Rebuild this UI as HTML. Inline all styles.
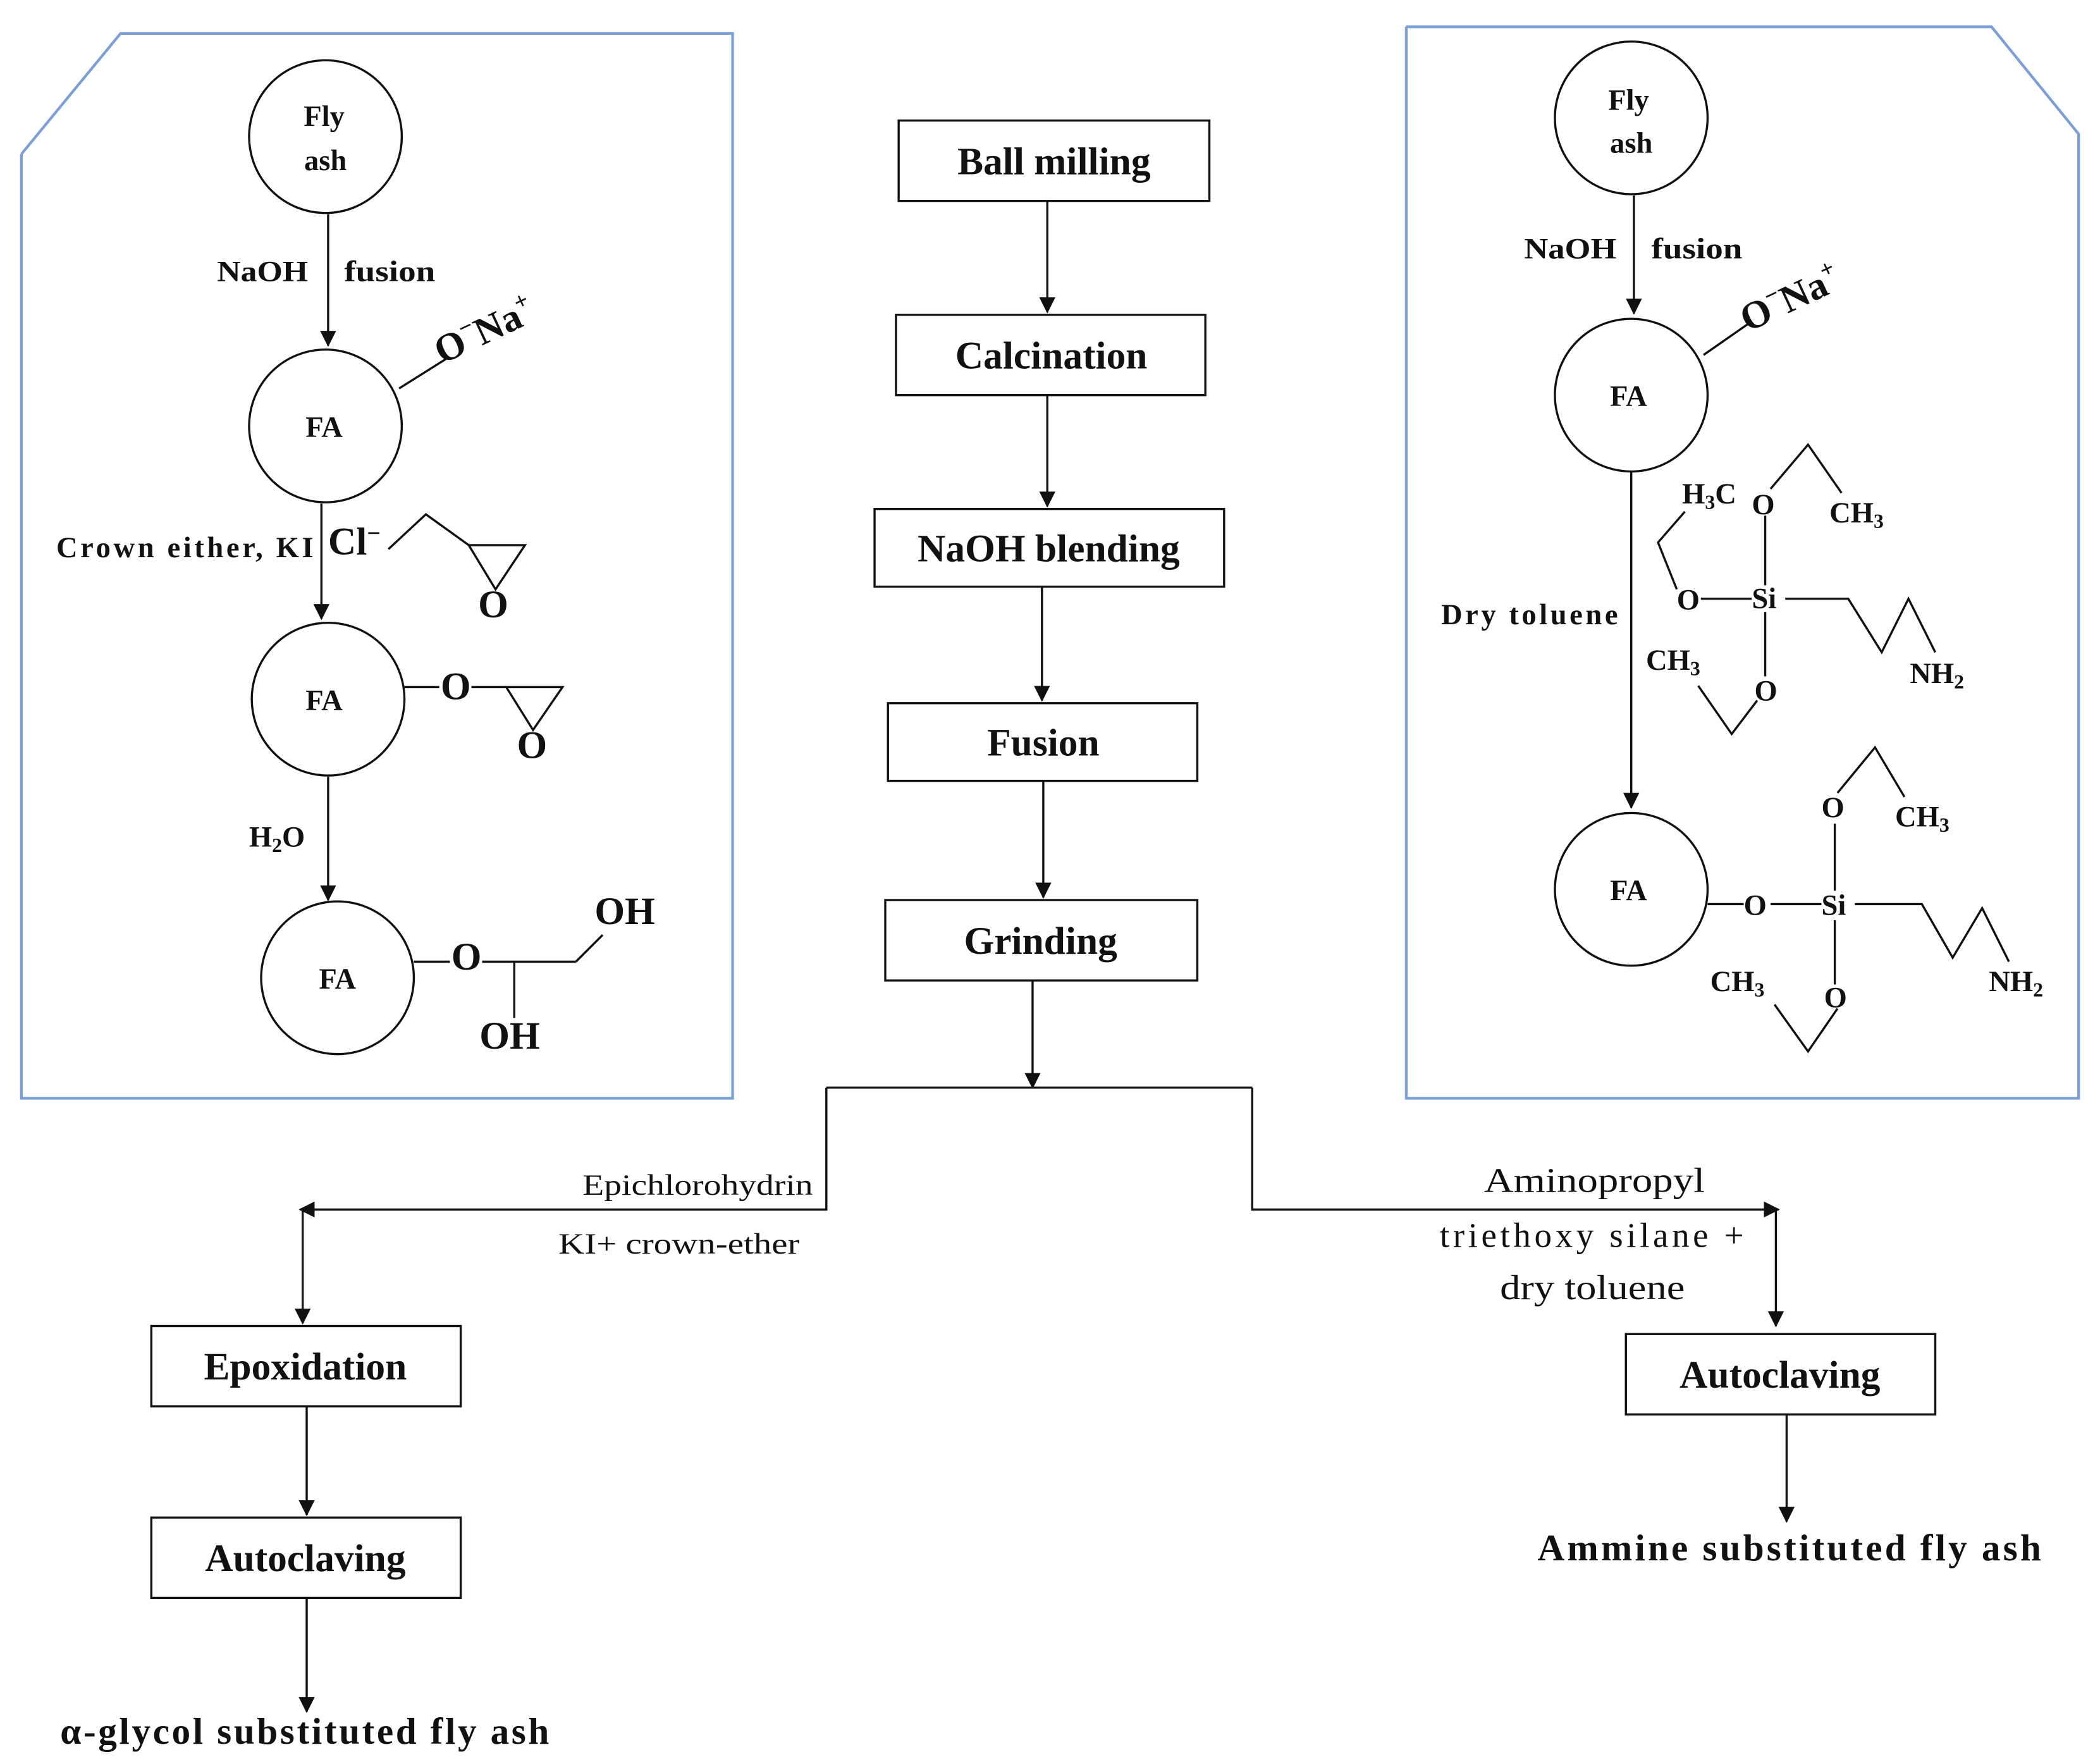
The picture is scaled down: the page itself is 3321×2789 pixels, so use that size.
<!DOCTYPE html>
<html><head><meta charset="utf-8"><style>
html,body{margin:0;padding:0;background:#fff;}
svg{display:block;}
text{font-family:"Liberation Serif",serif;fill:#111;}
.b{font-weight:bold;}
</style></head><body>
<svg width="3321" height="2789" viewBox="0 0 1568 1317" preserveAspectRatio="none" xmlns="http://www.w3.org/2000/svg">
<defs><marker id="a" markerWidth="12" markerHeight="12" refX="11" refY="6" orient="auto" markerUnits="userSpaceOnUse"><path d="M0,0 L12,6 L0,12 z" fill="#111"/></marker></defs>
<g fill="none" stroke="#7a9fd6" stroke-width="2">
<polyline points="16,115 90,25 547,25 547,820 16,820 16,115"/>
<polyline points="1050,20 1487,20 1552,100 1552,820 1050,820 1050,20"/>
</g>
<g fill="#fff" stroke="#111" stroke-width="1.6">
<rect x="671" y="90" width="232" height="60"/>
<rect x="669" y="235" width="231" height="60"/>
<rect x="653" y="380" width="261" height="58"/>
<rect x="663" y="525" width="231" height="58"/>
<rect x="661" y="672" width="233" height="60"/>
<rect x="113" y="990" width="231" height="60"/>
<rect x="113" y="1133" width="231" height="60"/>
<rect x="1214" y="996" width="231" height="60"/>
</g>
<g stroke="#111" stroke-width="1.6" fill="none" marker-end="url(#a)">
<line x1="782" y1="150" x2="782" y2="233"/>
<line x1="782" y1="295" x2="782" y2="378"/>
<line x1="778" y1="438" x2="778" y2="523"/>
<line x1="779" y1="583" x2="779" y2="670"/>
<line x1="771" y1="732" x2="771" y2="812"/>
<polyline points="617,812 617,903 224,903"/>
<line x1="226" y1="903" x2="226" y2="988"/>
<polyline points="935,812 935,903 1328,903"/>
<line x1="1326" y1="903" x2="1326" y2="990"/>
<line x1="229" y1="1050" x2="229" y2="1131"/>
<line x1="229" y1="1193" x2="229" y2="1278"/>
<line x1="1334" y1="1056" x2="1334" y2="1136"/>
<line x1="245" y1="160" x2="245" y2="258"/>
<line x1="240" y1="376" x2="240" y2="462"/>
<line x1="245" y1="580" x2="245" y2="672"/>
<line x1="1220" y1="146" x2="1220" y2="234"/>
<line x1="1218" y1="352" x2="1218" y2="603"/>
</g>
<line x1="617" y1="812" x2="935" y2="812" stroke="#111" stroke-width="1.6"/>
<g class="b" font-size="29" text-anchor="middle">
<text x="787" y="130" class="b">Ball milling</text>
<text x="785" y="275" class="b">Calcination</text>
<text x="783" y="419" class="b">NaOH blending</text>
<text x="779" y="564" class="b">Fusion</text>
<text x="777" y="712" class="b">Grinding</text>
<text x="228" y="1030" class="b">Epoxidation</text>
<text x="228" y="1173" class="b">Autoclaving</text>
<text x="1329" y="1036" class="b">Autoclaving</text>
</g>
<text x="45" y="1302" font-size="28" class="b" textLength="365" lengthAdjust="spacing">α-glycol substituted  fly ash</text>
<text x="1148" y="1165" font-size="28" class="b" textLength="376" lengthAdjust="spacing">Ammine  substituted  fly ash</text>
<text x="435" y="892" font-size="22" textLength="172" lengthAdjust="spacingAndGlyphs">Epichlorohydrin</text>
<text x="417" y="936" font-size="22" textLength="180" lengthAdjust="spacingAndGlyphs">KI+ crown-ether</text>
<text x="1108" y="890" font-size="26" textLength="165" lengthAdjust="spacingAndGlyphs">Aminopropyl</text>
<text x="1075" y="931" font-size="26" textLength="227" lengthAdjust="spacing">triethoxy  silane  +</text>
<text x="1120" y="970" font-size="26" textLength="138" lengthAdjust="spacingAndGlyphs">dry toluene</text>
<g fill="#fff" stroke="#111" stroke-width="1.6">
<circle cx="243" cy="102" r="57"/><circle cx="243" cy="318" r="57"/>
<circle cx="245" cy="522" r="57"/><circle cx="252" cy="730" r="57"/>
<circle cx="1218" cy="88" r="57"/><circle cx="1218" cy="295" r="57"/>
<circle cx="1218" cy="664" r="57"/>
</g>
<g class="b" font-size="22" text-anchor="middle">
<text x="242" y="94" class="b">Fly</text><text x="243" y="127" class="b">ash</text>
<text x="242" y="326" class="b">FA</text><text x="242" y="530" class="b">FA</text><text x="252" y="738" class="b">FA</text>
<text x="1216" y="82" class="b">Fly</text><text x="1218" y="114" class="b">ash</text>
<text x="1216" y="303" class="b">FA</text><text x="1216" y="672" class="b">FA</text>
</g>
<g class="b" font-size="22">
<text x="162" y="210" class="b" textLength="68" lengthAdjust="spacingAndGlyphs">NaOH</text><text x="257" y="210" class="b" textLength="68" lengthAdjust="spacingAndGlyphs">fusion</text>
<text x="42" y="416" class="b" textLength="192" lengthAdjust="spacing">Crown  either, KI</text>
<text x="186" y="632" class="b">H<tspan font-size="15" dy="4">2</tspan><tspan dy="-4">O</tspan></text>
<text x="1138" y="193" class="b" textLength="69" lengthAdjust="spacingAndGlyphs">NaOH</text><text x="1233" y="193" class="b" textLength="68" lengthAdjust="spacingAndGlyphs">fusion</text>
<text x="1076" y="466" class="b" textLength="132" lengthAdjust="spacing">Dry  toluene</text>
</g>
<g class="b" font-size="29">
<text x="330" y="272" transform="rotate(-25 330 272)" class="b">O<tspan font-size="18" dy="-12">−</tspan><tspan dy="12">Na</tspan><tspan font-size="18" dy="-12">+</tspan></text>
<text x="1305" y="248" transform="rotate(-25 1305 248)" class="b">O<tspan font-size="18" dy="-12">−</tspan><tspan dy="12">Na</tspan><tspan font-size="18" dy="-12">+</tspan></text>
<text x="245" y="414" class="b">Cl<tspan font-size="18" dy="-10">−</tspan></text>
<text x="357" y="461" class="b">O</text>
<text x="329" y="522" class="b">O</text><text x="386" y="566" class="b">O</text>
<text x="337" y="724" class="b">O</text>
<text x="444" y="690" class="b">OH</text><text x="358" y="783" class="b">OH</text>
</g>
<g stroke="#111" stroke-width="1.6" fill="none">
<line x1="298" y1="290" x2="333" y2="268"/>
<line x1="1272" y1="265" x2="1305" y2="242"/>
<polyline points="290,410 318,384 350,407"/>
<polygon points="350,407 392,407 370,440"/>
<line x1="302" y1="513" x2="328" y2="513"/>
<line x1="352" y1="513" x2="378" y2="513"/>
<polygon points="378,513 420,513 398,545"/>
<line x1="309" y1="718" x2="336" y2="718"/>
<line x1="360" y1="718" x2="430" y2="718"/>
<line x1="384" y1="718" x2="384" y2="760"/>
<line x1="430" y1="718" x2="450" y2="698"/>
<line x1="1318" y1="385" x2="1318" y2="437"/>
<line x1="1318" y1="457" x2="1318" y2="505"/>
<line x1="1270" y1="447" x2="1308" y2="447"/>
<polyline points="1322,365 1350,332 1375,368"/>
<polyline points="1252,440 1238,405 1258,382"/>
<polyline points="1312,523 1293,548 1268,512"/>
<polyline points="1333,447 1380,447 1405,487 1425,447 1445,487"/>
<line x1="1275" y1="675" x2="1302" y2="675"/>
<line x1="1322" y1="675" x2="1360" y2="675"/>
<line x1="1370" y1="615" x2="1370" y2="665"/>
<line x1="1370" y1="687" x2="1370" y2="735"/>
<polyline points="1372,592 1400,558 1422,595"/>
<polyline points="1372,753 1350,785 1325,750"/>
<polyline points="1385,675 1435,675 1458,715 1480,678 1500,718"/>
</g>
<g class="b" font-size="22">
<text x="1308" y="384" class="b">O</text>
<text x="1308" y="454" class="b">Si</text>
<text x="1252" y="455" class="b">O</text>
<text x="1310" y="523" class="b">O</text>
<text x="1256" y="376" class="b">H<tspan font-size="15" dy="4">3</tspan><tspan dy="-4">C</tspan></text>
<text x="1366" y="390" class="b">CH<tspan font-size="15" dy="4">3</tspan></text>
<text x="1229" y="500" class="b">CH<tspan font-size="15" dy="4">3</tspan></text>
<text x="1426" y="510" class="b">NH<tspan font-size="15" dy="4">2</tspan></text>
<text x="1302" y="683" class="b">O</text>
<text x="1360" y="683" class="b">Si</text>
<text x="1360" y="610" class="b">O</text>
<text x="1362" y="752" class="b">O</text>
<text x="1415" y="617" class="b">CH<tspan font-size="15" dy="4">3</tspan></text>
<text x="1277" y="740" class="b">CH<tspan font-size="15" dy="4">3</tspan></text>
<text x="1485" y="740" class="b">NH<tspan font-size="15" dy="4">2</tspan></text>
</g>
</svg>
</body></html>
